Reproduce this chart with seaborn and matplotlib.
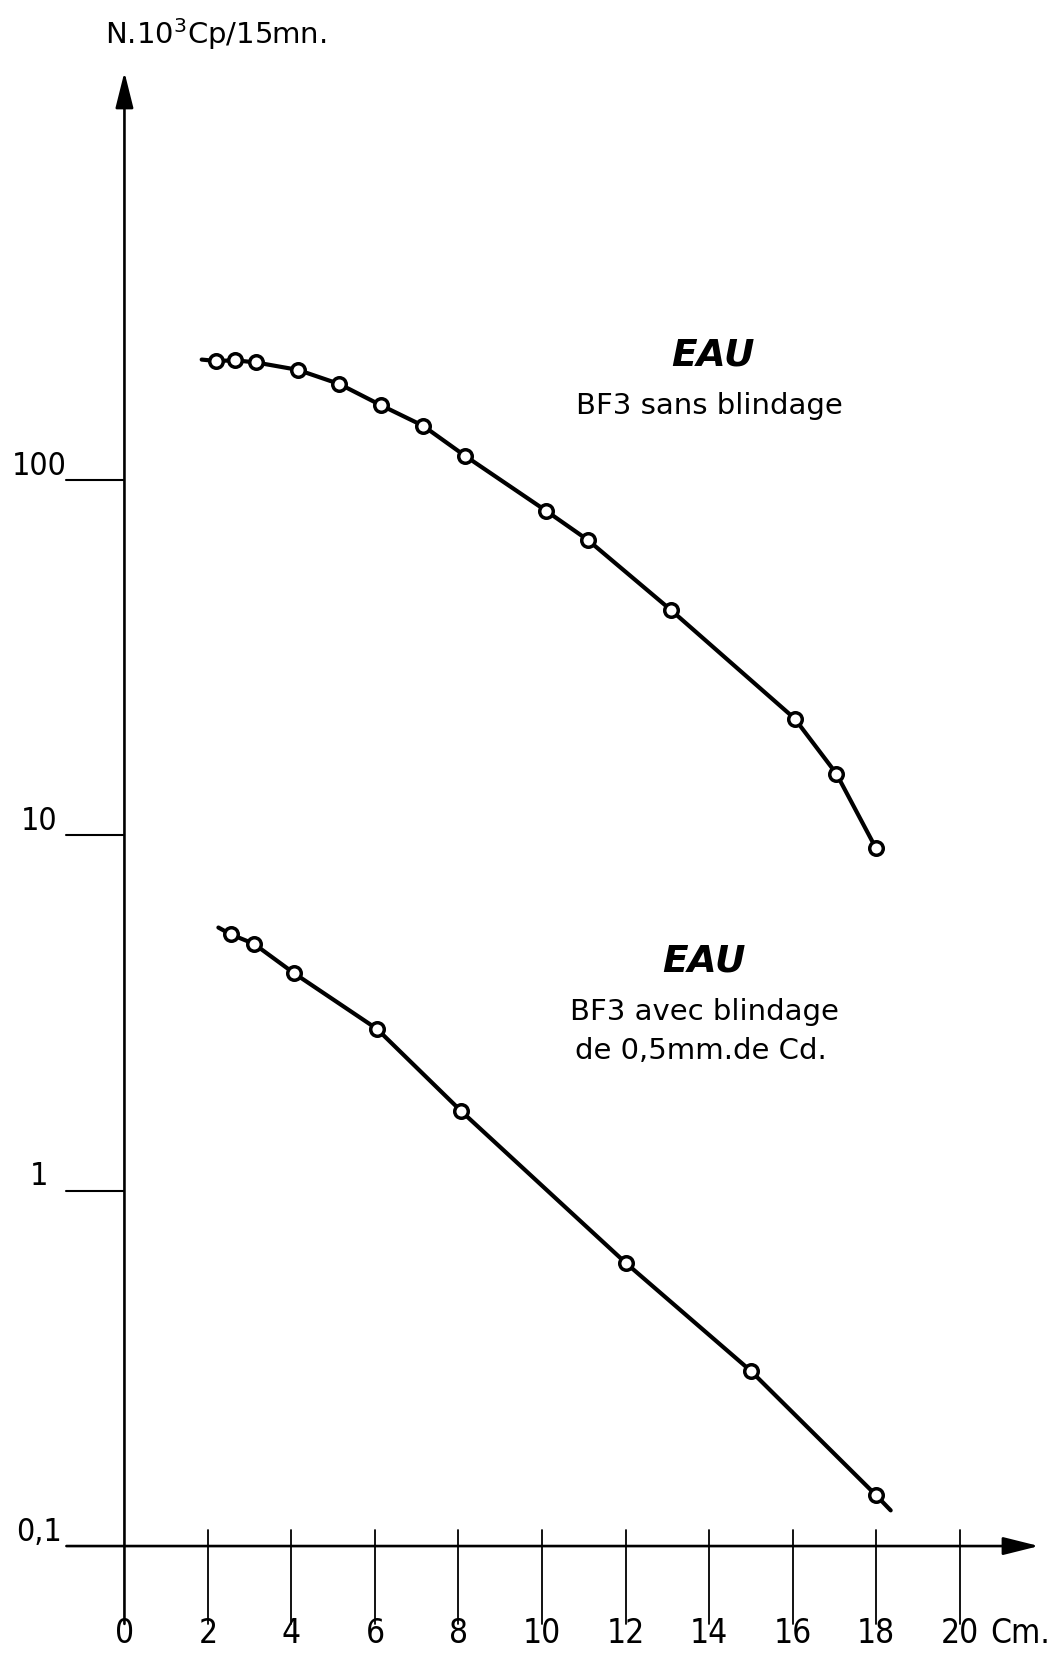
import matplotlib
matplotlib.use("Agg")
import matplotlib.pyplot as plt
import seaborn as sns
import numpy as np
import pandas as pd

# ---- data ----
top_x = [2.2, 2.65, 3.15, 4.15, 5.15, 6.15, 7.15, 8.15, 10.1, 11.1, 13.1, 16.05, 17.05, 18.0]
top_y = [216, 217, 214, 204, 186, 162, 142, 117, 81.8, 67.7, 42.9, 21.3, 14.9, 9.18]
bot_x = [2.55, 3.1, 4.05, 6.05, 8.05, 12.0, 15.0, 18.0]
bot_y = [5.26, 4.95, 4.10, 2.85, 1.68, 0.627, 0.311, 0.139]

# hand-drawn curve ends (beyond first/last marker)
top_curve_start = (1.85, 218)
bot_curve_start = (2.25, 5.5)
bot_curve_end = (18.35, 0.126)

xtick_vals = [0, 2, 4, 6, 8, 10, 12, 14, 16, 18, 20]
xtick_labels = ["0", "2", "4", "6", "8", "10", "12", "14", "16", "18", "20"]
ytick_vals = [0.1, 1, 10, 100]
ytick_labels = ["0,1", "1", "10", "100"]

ylabel = "N.10$^{3}$Cp/15mn."
xlabel = "Cm."
top_title = "EAU"
top_sub = "BF3 sans blindage"
bot_title = "EAU"
bot_sub = ["BF3 avec blindage", "de 0,5mm.de Cd."]

# ---- style ----
sns.set_theme(style="white")
plt.rcParams["font.family"] = ["DejaVu Sans"]
plt.rcParams["text.color"] = "black"
num_kw = dict(family=["DejaVu Sans"], fontstretch="condensed", color="black")

fig = plt.figure(figsize=(10.62, 16.53), dpi=100)
ax = fig.add_axes([0.0582, 0.01095, 0.924, 0.9503])
ax.set_yscale("log")
ax.set_xlim(-1.5, 22)
ax.set_ylim(10 ** -1.25, 10 ** 3.17)
ax.set_axis_off()

# ---- curves ----
top_line = pd.DataFrame({"x": [top_curve_start[0]] + top_x,
                         "y": [top_curve_start[1]] + top_y})
bot_line = pd.DataFrame({"x": [bot_curve_start[0]] + bot_x + [bot_curve_end[0]],
                         "y": [bot_curve_start[1]] + bot_y + [bot_curve_end[1]]})
sns.lineplot(data=top_line, x="x", y="y", ax=ax, color="black", lw=3.0,
             sort=False, estimator=None)
sns.lineplot(data=bot_line, x="x", y="y", ax=ax, color="black", lw=3.0,
             sort=False, estimator=None)

pts = pd.DataFrame({"x": top_x + bot_x, "y": top_y + bot_y})
sns.scatterplot(data=pts, x="x", y="y", ax=ax, s=95, facecolor="white",
                edgecolor="black", linewidth=2.5, zorder=5)

# ---- hand-drawn style axes ----
arrow_kw = dict(arrowstyle="-|>,head_length=2.2,head_width=0.55",
                color="black", lw=1.9, shrinkA=0, shrinkB=0, mutation_scale=10)
ax.annotate("", xy=(0, 10 ** 3.1475), xytext=(0, 10 ** -1.219),
            arrowprops=arrow_kw, annotation_clip=False)
ax.annotate("", xy=(21.9, 0.1), xytext=(-1.39, 0.1),
            arrowprops=arrow_kw, annotation_clip=False)

for xv, lab in zip(xtick_vals, xtick_labels):
    if xv != 0:
        ax.plot([xv, xv], [10 ** -1.22, 10 ** -0.955], color="black", lw=1.3,
                clip_on=False)
    ax.text(xv, 10 ** -1.247, lab, ha="center", va="center", fontsize=24,
            clip_on=False, **num_kw)

for yv, lab in zip(ytick_vals, ytick_labels):
    if yv != 0.1:
        ax.plot([-1.39, 0], [yv, yv], color="black", lw=1.5, clip_on=False)
    ax.text(-2.05, yv * 10 ** 0.039, lab, ha="center", va="center",
            fontsize=23, clip_on=False, **num_kw)

ax.text(21.45, 10 ** -1.247, xlabel, ha="center", va="center", fontsize=24,
        clip_on=False, **num_kw)
fig.text(216 / 1062, 1 - 34 / 1653, ylabel, ha="center", va="center",
         fontsize=21, color="black")

# ---- annotations ----
ax.text(14.1, 224, top_title, ha="center", va="center", fontsize=27,
        style="italic", fontweight="bold", color="black")
ax.text(14.0, 161, top_sub, ha="center", va="center", fontsize=21, color="black")
ax.text(13.88, 4.40, bot_title, ha="center", va="center", fontsize=27,
        style="italic", fontweight="bold", color="black")
ax.text(13.88, 3.18, bot_sub[0], ha="center", va="center", fontsize=21,
        color="black")
ax.text(13.8, 2.47, bot_sub[1], ha="center", va="center", fontsize=21,
        color="black")

fig.savefig("out.png", dpi=100, facecolor="white")
